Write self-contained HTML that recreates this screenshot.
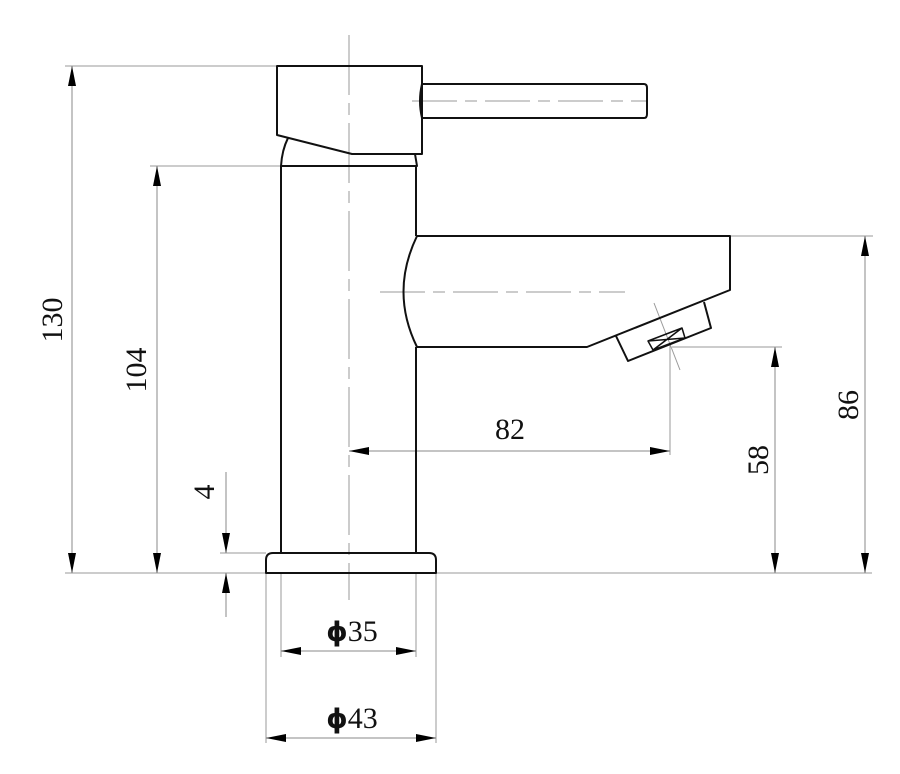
<!DOCTYPE html>
<html><head><style>
html,body{margin:0;padding:0;background:#fff;}
svg{display:block;}
text{font-family:"Liberation Serif",serif;font-size:30px;fill:#111;}
</style></head><body>
<svg width="900" height="774" viewBox="0 0 900 774" xmlns="http://www.w3.org/2000/svg">
<defs>
<marker id="a" viewBox="0 0 20 8" refX="20" refY="4" markerWidth="20" markerHeight="8" markerUnits="userSpaceOnUse" orient="auto-start-reverse"><path d="M0,0 L20,4 L0,8 Z" fill="#000"/></marker>
</defs>
<g stroke="#999" stroke-width="1" fill="none">
<line x1="349" y1="35" x2="349" y2="600" stroke-dasharray="60,8,12,8"/>
<line x1="412" y1="101" x2="648" y2="101" stroke-dasharray="45,8,12,8"/>
<line x1="380" y1="292" x2="625" y2="292" stroke-dasharray="45,8,12,8"/>
<line x1="654" y1="303" x2="680" y2="370"/>
<line x1="65" y1="66" x2="277" y2="66"/>
<line x1="150" y1="166" x2="283" y2="166"/>
<line x1="65" y1="573" x2="872" y2="573"/>
<line x1="220" y1="553" x2="266" y2="553"/>
<line x1="730" y1="236" x2="873" y2="236"/>
<line x1="672" y1="347" x2="782" y2="347"/>
<line x1="670" y1="345" x2="670" y2="455"/>
<line x1="281" y1="573" x2="281" y2="657"/>
<line x1="416" y1="573" x2="416" y2="657"/>
<line x1="266" y1="573" x2="266" y2="743"/>
<line x1="436" y1="573" x2="436" y2="743"/>
</g>
<g stroke="#888" stroke-width="1" fill="none">
<line x1="72" y1="66" x2="72" y2="573" marker-start="url(#a)" marker-end="url(#a)"/>
<line x1="157" y1="166" x2="157" y2="573" marker-start="url(#a)" marker-end="url(#a)"/>
<line x1="226" y1="472" x2="226" y2="553" marker-end="url(#a)"/>
<line x1="226" y1="617" x2="226" y2="573" marker-end="url(#a)"/>
<line x1="349" y1="451" x2="670" y2="451" marker-start="url(#a)" marker-end="url(#a)"/>
<line x1="775" y1="347" x2="775" y2="573" marker-start="url(#a)" marker-end="url(#a)"/>
<line x1="865" y1="236" x2="865" y2="573" marker-start="url(#a)" marker-end="url(#a)"/>
<line x1="281" y1="651" x2="416" y2="651" marker-start="url(#a)" marker-end="url(#a)"/>
<line x1="266" y1="738" x2="436" y2="738" marker-start="url(#a)" marker-end="url(#a)"/>
</g>
<g stroke="#111" stroke-width="2" fill="none" stroke-linejoin="round">
<path d="M277,66 L422,66 L422,154 L352,154 L277,135 Z"/>
<path d="M422,84 L644,84 Q647,84 647,88 L647,114 Q647,118 644,118 L422,118 Q418,101 422,84"/>
<path d="M288,138 Q282,150 281,166 L417,166 L415,154"/>
<path d="M281,166 L281,553 M416,166 L416,236 M416,347 L416,553"/>
<path d="M417,236 L730,236 L730,290 L587,347 L417,347 Q390,292 417,236 Z"/>
<path d="M616,336 L628,361 L711,328 L704,302"/>
<path d="M648,341 L682,328 L685,338 L653,350 Z M648,341 L685,338 M682,328 L653,350" stroke-width="1.5"/>
<path d="M266,573 L266,560 Q266,553 273,553 L429,553 Q436,553 436,560 L436,573 Z"/>
</g>
<text x="0" y="0" transform="translate(62,320) rotate(-90)" text-anchor="middle">130</text>
<text x="0" y="0" transform="translate(146,370) rotate(-90)" text-anchor="middle">104</text>
<text x="0" y="0" transform="translate(214,492) rotate(-90)" text-anchor="middle">4</text>
<text x="510" y="439" text-anchor="middle">82</text>
<text x="0" y="0" transform="translate(768,460) rotate(-90)" text-anchor="middle">58</text>
<text x="0" y="0" transform="translate(858,405) rotate(-90)" text-anchor="middle">86</text>
<text x="352" y="641" text-anchor="middle"><tspan font-family="DejaVu Sans" font-weight="bold" font-size="27">ϕ</tspan>35</text>
<text x="352" y="728" text-anchor="middle"><tspan font-family="DejaVu Sans" font-weight="bold" font-size="27">ϕ</tspan>43</text>
</svg>
</body></html>
